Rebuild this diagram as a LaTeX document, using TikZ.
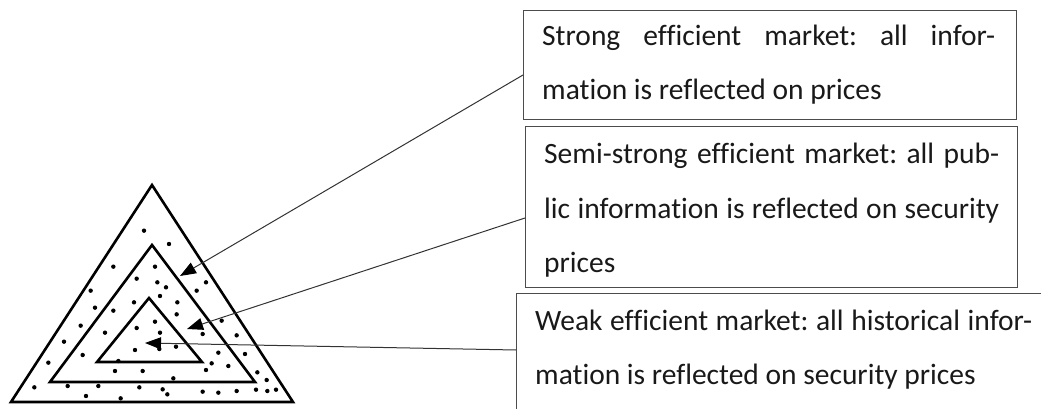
\documentclass[tikz,border=0pt]{standalone}
\usepackage{fontspec}
\setmainfont{Carlito}[Ligatures=NoCommon]
\usetikzlibrary{arrows.meta,calc}
\begin{document}
\begin{tikzpicture}[x=1pt,y=-1pt,
  box/.style={draw=black!70, line width=1.2pt, rectangle, inner sep=0pt, anchor=north west},
  txt/.style={anchor=base west, inner sep=0pt, font=\fontsize{29.5}{54}\selectfont, text=black!90},
  tri/.style={draw=black, line width=2.6pt, line join=miter},
  pointer/.style={draw=black!80, line width=1pt, -{Triangle[length=16pt,width=12pt,fill=black,color=black]}},
  dot/.style={fill=black}]
\useasboundingbox (0,0) rectangle (1041,409);
\clip (0,0) rectangle (1041,409);

% boxes
\node[box, minimum width=493pt, minimum height=109pt] (strong) at (523,10) {};
\node[box, minimum width=492pt, minimum height=161pt] (semi) at (525,126) {};
\node[box, minimum width=600pt, minimum height=200pt] (weak) at (516,293) {};

% texts
\node[txt] (s1) at (542,46) {\hbox to 453pt{Strong\hfill efficient\hfill market:\hfill all\hfill infor-}};
\node[txt] (s2) at (542,100) {mation is reflected on prices};
\node[txt] (m1) at (544,163) {\hbox to 455pt{Semi-strong\hfill efficient\hfill market:\hfill all\hfill pub-}};
\node[txt] (m2) at (544,218) {\hbox to 455pt{lic\hfill information\hfill is\hfill reflected\hfill on\hfill security}};
\node[txt] (m3) at (544,272) {prices};
\node[txt] (w1) at (535,330) {\hbox to 497pt{Weak\hfill efficient\hfill market:\hfill all\hfill historical\hfill infor-}};
\node[txt] (w2) at (535,384) {mation is reflected on security prices};

% triangles
\draw[tri] (152,185) -- (11,402) -- (293,402) -- cycle;
\draw[tri] (152,245) -- (50,382) -- (255,382) -- cycle;
\draw[tri] (149,298) -- (97,362) -- (202,362) -- cycle;

% dots
\foreach \px/\py in {432/182, 507/222, 340/290, 465/290, 410/326, 472/337, 498/352, 618/337,
  590/362, 272/362, 480/378, 532/397, 402/397, 285/413, 340/422, 530/433, 465/455, 410/474,
  242/467, 315/488, 480/488, 608/492, 665/452, 710/496, 192/515, 405/540, 478/537, 528/530,
  248/555, 655/548, 735/552, 145/578, 355/573, 635/580, 685/588, 618/600, 345/603, 428/603,
  772/607, 520/625, 800/630, 103/652, 203/648, 295/648, 418/652, 488/658, 502/673, 608/665,
  655/668, 710/663, 768/659, 802/663, 828/659, 258/678, 362/685}
  \fill[dot] ({\px/3},{\py/3+170}) circle (2.2);

% pointers
\coordinate (tipS) at (180,276);
\coordinate (tipM) at (187,329);
\coordinate (tipW) at (145,343);
\draw[pointer] ($(strong.north west)+(0,65)$) -- (tipS);
\draw[pointer] ($(semi.north west)+(0,92)$) -- (tipM);
\draw[pointer] ($(weak.north west)+(0,57)$) -- (tipW);
\end{tikzpicture}
\end{document}
